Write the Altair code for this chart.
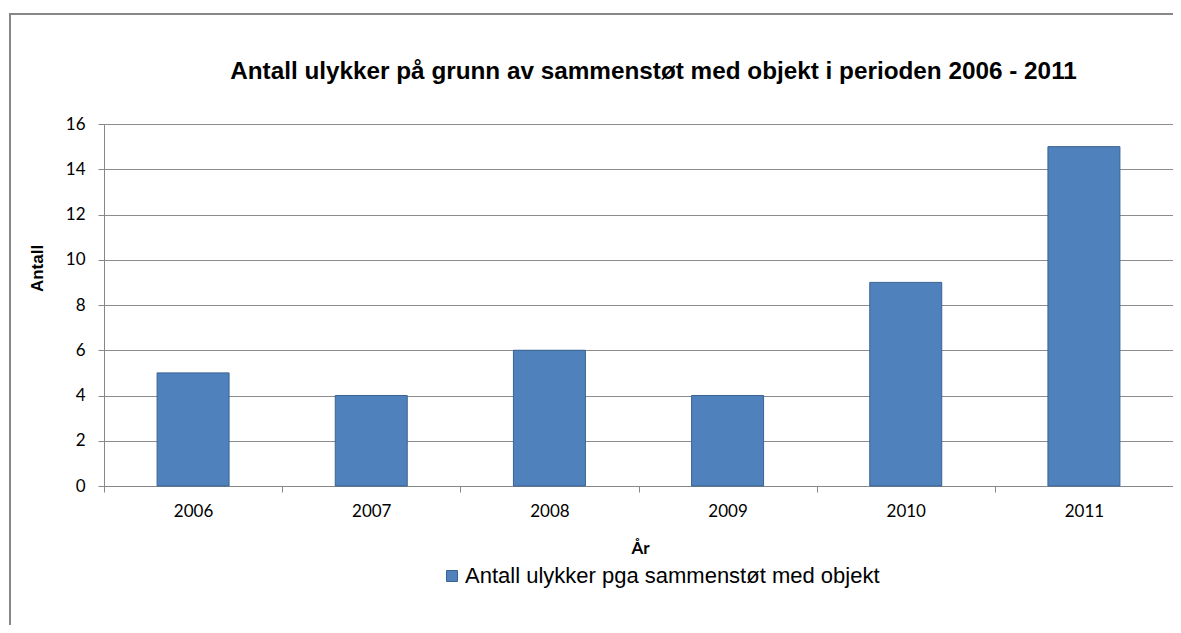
import altair as alt
import pandas as pd

years = ["2006", "2007", "2008", "2009", "2010", "2011"]
counts = [5, 4, 6, 4, 9, 15]
series_name = "Antall ulykker pga sammenstøt med objekt"
y_ticks = [0, 2, 4, 6, 8, 10, 12, 14, 16]
title_text = "Antall ulykker på grunn av sammenstøt med objekt i perioden 2006 - 2011"

df = pd.DataFrame({"year": years, "count": counts, "series": [series_name] * len(years)})

GRAY = "#878787"

bars = alt.Chart(df).mark_bar(
    width=alt.RelativeBandSize(0.404), stroke="#3a6391", strokeWidth=1
).encode(
    x=alt.X(
        "year:N", sort=years,
        scale=alt.Scale(paddingInner=0, paddingOuter=0),
        axis=alt.Axis(
            title="År", labelAngle=0, tickBand="extent", grid=False,
            domainColor=GRAY, tickColor=GRAY, tickSize=6,
            labelFont="Lato", labelFontSize=17, labelColor="#000000",
            labelBaseline="alphabetic", labelPadding=24,
            titleFont="Lato", titleFontSize=17, titleFontWeight="bold", titleColor="#000000",
            titleX=536, titleY=67, titleBaseline="alphabetic", titleAlign="center",
        ),
    ),
    y=alt.Y(
        "count:Q",
        scale=alt.Scale(domain=[0, 16], nice=False),
        axis=alt.Axis(
            values=y_ticks, title="Antall", grid=True, gridColor="#8c8c8c", gridWidth=1,
            domainColor=GRAY, tickColor=GRAY, tickSize=6,
            labelFont="Lato", labelFontSize=17, labelColor="#000000", labelPadding=13,
            titleFont="Liberation Sans", titleFontSize=17, titleFontWeight="bold", titleColor="#000000",
            titleX=-62, titleY=144, titleAngle=270, titleAlign="center", titleBaseline="alphabetic",
        ),
    ),
    color=alt.Color(
        "series:N",
        scale=alt.Scale(range=["#4f81bd"]),
        legend=alt.Legend(
            title=None, orient="none", legendX=337, legendY=441, padding=0,
            symbolType="square", symbolSize=121, symbolStrokeColor="#3a6391", symbolStrokeWidth=1,
            symbolFillColor="#4f81bd",
            labelFont="Liberation Sans", labelFontSize=22, labelColor="#000000", labelOffset=2,
            labelLimit=1000,
        ),
    ),
)

frame_df = pd.DataFrame({"k": [0]})
frame_v = alt.Chart(frame_df).mark_rule(color=GRAY, strokeWidth=2).encode(
    x=alt.value(-94), y=alt.value(-110), y2=alt.value(700)
)
frame_h = alt.Chart(frame_df).mark_rule(color=GRAY, strokeWidth=2).encode(
    y=alt.value(-110), x=alt.value(-95), x2=alt.value(1300)
)

chart = alt.layer(frame_v, frame_h, bars).properties(
    width=1069,
    height=362,
    title=alt.TitleParams(
        text=title_text, font="Liberation Sans", fontSize=24.3, fontWeight="bold",
        color="#000000", anchor="middle", frame="group", dx=15, offset=0, dy=90,
        baseline="alphabetic",
    ),
    autosize=alt.AutoSizeParams(type="none"),
    padding={"left": 96, "top": 116, "right": 0, "bottom": 139},
).configure_view(fill="#e6e6e6", stroke=None).configure(background="#ffffff")

chart.save("out.html", embed_options={"renderer": "svg", "actions": False})
